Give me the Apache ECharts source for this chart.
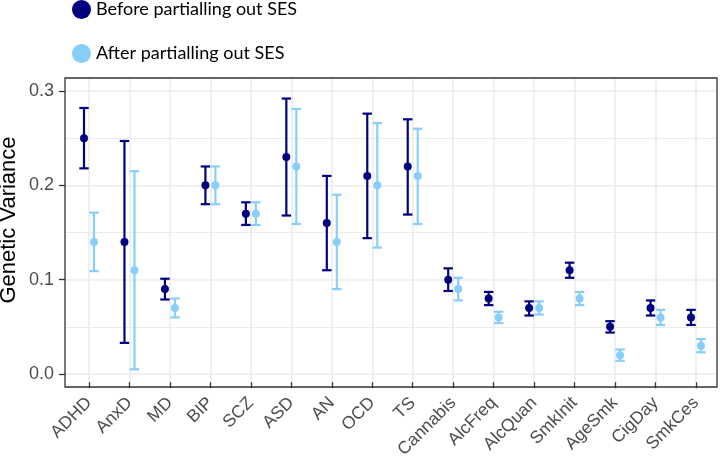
<!DOCTYPE html>
<html>
<head>
<meta charset="utf-8">
<script src="https://cdn.jsdelivr.net/npm/echarts@6/dist/echarts.min.js"></script>
<style>html,body{margin:0;padding:0;background:#fff;}#chart{width:720px;height:461px;}</style>
</head>
<body>
<div id="chart"></div>
<script>
const categories = ['ADHD','AnxD','MD','BIP','SCZ','ASD','AN','OCD','TS','Cannabis','AlcFreq','AlcQuan','SmkInit','AgeSmk','CigDay','SmkCes'];
const beforeValue = [0.25, 0.14, 0.09, 0.20, 0.17, 0.23, 0.16, 0.21, 0.22, 0.10, 0.08, 0.07, 0.11, 0.05, 0.07, 0.06];
const beforeLower = [0.218, 0.033, 0.079, 0.180, 0.158, 0.168, 0.110, 0.144, 0.169, 0.088, 0.073, 0.062, 0.102, 0.044, 0.062, 0.052];
const beforeUpper = [0.282, 0.247, 0.101, 0.220, 0.182, 0.292, 0.210, 0.276, 0.270, 0.112, 0.087, 0.077, 0.118, 0.056, 0.078, 0.068];
const afterValue = [0.14, 0.11, 0.07, 0.20, 0.17, 0.22, 0.14, 0.20, 0.21, 0.09, 0.06, 0.07, 0.08, 0.02, 0.06, 0.03];
const afterLower = [0.109, 0.005, 0.060, 0.180, 0.158, 0.159, 0.090, 0.134, 0.159, 0.078, 0.054, 0.063, 0.073, 0.014, 0.052, 0.023];
const afterUpper = [0.171, 0.215, 0.080, 0.220, 0.182, 0.281, 0.190, 0.266, 0.260, 0.102, 0.066, 0.077, 0.087, 0.026, 0.068, 0.037];
const yTicks = [0, 0.1, 0.2, 0.3];
const seriesNames = ['Before partialling out SES', 'After partialling out SES'];
const colors = ['#000080', '#87cefa'];

const chart = echarts.init(document.getElementById('chart'), null, {renderer: 'canvas'});
const font = 'Liberation Sans, Arial, sans-serif';

function makeRender(offset, color) {
  return function (params, api) {
    const idx = api.value(0);
    const c = api.coord([idx, api.value(1)]);
    const lo = api.coord([idx, api.value(2)]);
    const hi = api.coord([idx, api.value(3)]);
    const x = c[0] + offset;
    const ls = {stroke: color, lineWidth: 2.2};
    return {type: 'group', children: [
      {type: 'line', shape: {x1: x, y1: lo[1], x2: x, y2: hi[1]}, style: ls},
      {type: 'line', shape: {x1: x - 4.7, y1: lo[1], x2: x + 4.7, y2: lo[1]}, style: ls},
      {type: 'line', shape: {x1: x - 4.7, y1: hi[1], x2: x + 4.7, y2: hi[1]}, style: ls},
      {type: 'circle', shape: {cx: x, cy: c[1], r: 4}, style: {fill: color}}
    ]};
  };
}
function toData(v, lo, hi) { return categories.map((c, i) => [i, v[i], lo[i], hi[i]]); }

const option = {
  backgroundColor: '#fff',
  animation: false,
  legend: {
    orient: 'vertical', left: 67, top: -5, itemWidth: 19, itemHeight: 19, itemGap: 25,
    textStyle: {fontFamily: 'Lato, sans-serif', fontSize: 18, color: '#000'},
    data: seriesNames.map((n, i) => ({name: n, icon: 'circle', itemStyle: {color: colors[i]}}))
  },
  grid: [
    {left: 65, right: 3, top: 91, bottom: 87},
    {left: 89, right: 24, top: 78, bottom: 74},
    {left: 89, right: 24, top: 91, bottom: 87},
    {left: 65, right: 3, top: 78, bottom: 74, show: true, borderColor: '#333', borderWidth: 1.3, backgroundColor: 'transparent', z: 5}
  ],
  xAxis: [
    {gridIndex: 0, type: 'value', min: 0, max: 1, show: false},
    {gridIndex: 1, type: 'category', data: categories, boundaryGap: false,
      axisLine: {show: false},
      axisTick: {show: true, length: 6, lineStyle: {color: '#333', width: 1.3}, interval: 0},
      axisLabel: {interval: 0, rotate: 45, margin: 18, fontFamily: font, fontSize: 17.5, color: '#4d4d4d'},
      splitLine: {show: true, interval: 0, lineStyle: {color: '#ebebeb', width: 1.6}}},
    {gridIndex: 2, type: 'category', data: categories, boundaryGap: false, show: false},
    {gridIndex: 3, type: 'value', show: false}
  ],
  yAxis: [
    {gridIndex: 0, type: 'value', min: 0, max: 0.3, interval: 0.1,
      axisLine: {show: false},
      axisTick: {show: true, length: 6, lineStyle: {color: '#333', width: 1.3}},
      axisLabel: {margin: 11, fontFamily: font, fontSize: 18, color: '#4d4d4d', formatter: v => v.toFixed(1)},
      splitLine: {show: true, lineStyle: {color: '#ebebeb', width: 1.6}},
      minorTick: {show: false, splitNumber: 2},
      minorSplitLine: {show: true, lineStyle: {color: '#ebebeb', width: 1.2}}},
    {gridIndex: 1, type: 'value', show: false},
    {gridIndex: 2, type: 'value', min: 0, max: 0.3, show: false},
    {gridIndex: 3, type: 'value', show: false}
  ],
  graphic: [{
    type: 'text', x: 9, y: 220, rotation: Math.PI / 2,
    style: {text: 'Genetic Variance', fontFamily: font, fontSize: 22, fill: '#000', align: 'center', verticalAlign: 'middle'}
  }],
  series: [
    {name: seriesNames[0], type: 'custom', xAxisIndex: 2, yAxisIndex: 2, itemStyle: {color: colors[0]},
      renderItem: makeRender(-5, colors[0]), data: toData(beforeValue, beforeLower, beforeUpper), z: 3},
    {name: seriesNames[1], type: 'custom', xAxisIndex: 2, yAxisIndex: 2, itemStyle: {color: colors[1]},
      renderItem: makeRender(5, colors[1]), data: toData(afterValue, afterLower, afterUpper), z: 3}
  ]
};
chart.setOption(option);
</script>
</body>
</html>
